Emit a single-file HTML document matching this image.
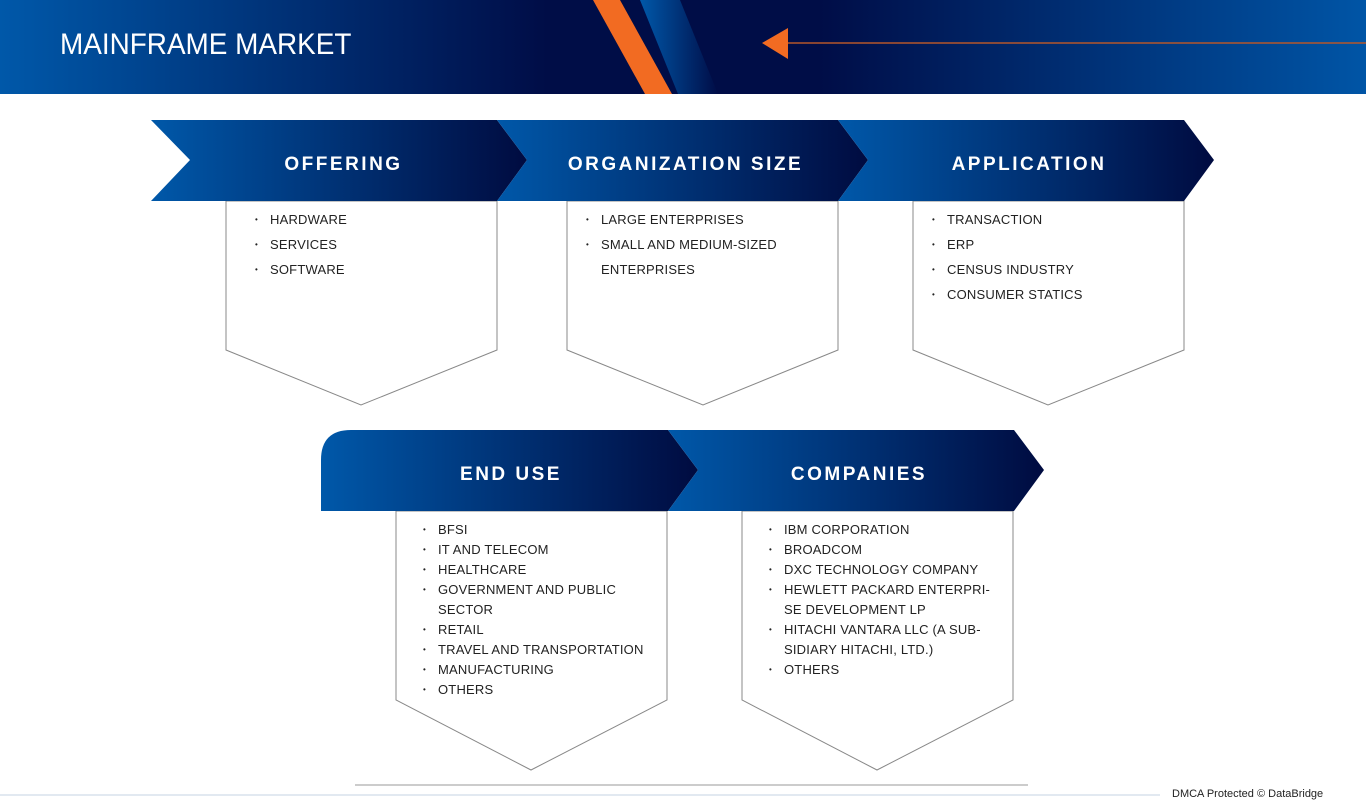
<!DOCTYPE html>
<html><head><meta charset="utf-8"><style>
body{margin:0;width:1366px;height:808px;overflow:hidden;background:#fff;font-family:"Liberation Sans",sans-serif;position:relative}
.t{position:absolute;font-size:13px;color:#222;letter-spacing:0.3px;white-space:nowrap}
.h{position:absolute;color:#fff;font-weight:bold;font-size:19px;letter-spacing:2.5px;text-align:center}
ul{position:absolute;margin:0;padding:0;list-style:none}
li{position:relative;font-size:13px;color:#222;letter-spacing:0.2px;white-space:nowrap;padding-left:15px}
li:before{content:"•";position:absolute;left:0;font-size:8px;top:0}
</style></head><body>
<svg width="1366" height="808" style="position:absolute;left:0;top:0">
<defs>
<linearGradient id="bn" x1="0" x2="1"><stop offset="0" stop-color="#0058a9"/><stop offset="0.4" stop-color="#000d47"/><stop offset="0.6" stop-color="#000d47"/><stop offset="1" stop-color="#0055a6"/></linearGradient>
<linearGradient id="g" x1="0" x2="1"><stop offset="0" stop-color="#0058a9"/><stop offset="1" stop-color="#000b40"/></linearGradient>
<linearGradient id="bs" x1="0" x2="1"><stop offset="0" stop-color="#0058a9"/><stop offset="1" stop-color="#000d47"/></linearGradient>
</defs>
<rect x="0" y="0" width="1366" height="94" fill="url(#bn)"/>
<polygon points="640,0 680,0 718,94 678,94" fill="url(#bs)"/>
<polygon points="593,0 620,0 672,94 645,94" fill="#f26b22"/>
<polygon points="762,43 788,28 788,59" fill="#f26b22"/>
<line x1="788" y1="43" x2="1366" y2="43" stroke="#b5572a" stroke-width="1.5"/>
<g fill="#fff" stroke="#888" stroke-width="1">
<polygon points="226,201 497,201 497,350 361,405 226,350"/>
<polygon points="567,201 838,201 838,350 703,405 567,350"/>
<polygon points="913,201 1184,201 1184,350 1048,405 913,350"/>
<polygon points="396,511 667,511 667,700 531,770 396,700"/>
<polygon points="742,511 1013,511 1013,700 877,770 742,700"/>
</g>
<polygon points="151,120 497,120 527,160 497,201 151,201 190,160" fill="url(#g)"/>
<polygon points="497,120 838,120 868,160 838,201 497,201 527,160" fill="url(#g)"/>
<polygon points="838,120 1184,120 1214,160 1184,201 838,201 868,160" fill="url(#g)"/>
<path d="M321,511 L321,460 Q321,430 351,430 L668,430 L698,470 L668,511 Z" fill="url(#g)"/>
<polygon points="668,430 1014,430 1044,470 1014,511 668,511 698,470" fill="url(#g)"/>
<line x1="355" y1="785" x2="1028" y2="785" stroke="#bbb" stroke-width="1.5"/>
<line x1="0" y1="795" x2="1160" y2="795" stroke="#c5d3e3" stroke-width="1"/>
</svg>
<div style="position:absolute;left:60px;top:28px;color:#fff;font-size:30px;letter-spacing:0px;transform:scaleX(0.93);transform-origin:left">MAINFRAME MARKET</div>
<div class="h" style="left:190px;width:307px;top:154px">OFFERING</div>
<div class="h" style="left:527px;width:317px;top:154px">ORGANIZATION SIZE</div>
<div class="h" style="left:868px;width:322px;top:154px">APPLICATION</div>
<div class="h" style="left:351px;width:320px;top:464px">END USE</div>
<div class="h" style="left:698px;width:322px;top:464px">COMPANIES</div>
<ul style="left:255px;top:207px;line-height:25px"><li>HARDWARE</li><li>SERVICES</li><li>SOFTWARE</li></ul>
<ul style="left:586px;top:207px;line-height:25px"><li>LARGE ENTERPRISES</li><li>SMALL AND MEDIUM-SIZED<br>ENTERPRISES</li></ul>
<ul style="left:932px;top:207px;line-height:25px"><li>TRANSACTION</li><li>ERP</li><li>CENSUS INDUSTRY</li><li>CONSUMER STATICS</li></ul>
<ul style="left:423px;top:520px;line-height:20px"><li>BFSI</li><li>IT AND TELECOM</li><li>HEALTHCARE</li><li>GOVERNMENT AND PUBLIC<br>SECTOR</li><li>RETAIL</li><li>TRAVEL AND TRANSPORTATION</li><li>MANUFACTURING</li><li>OTHERS</li></ul>
<ul style="left:769px;top:520px;line-height:20px"><li>IBM CORPORATION</li><li>BROADCOM</li><li>DXC TECHNOLOGY COMPANY</li><li>HEWLETT PACKARD ENTERPRI-<br>SE DEVELOPMENT LP</li><li>HITACHI VANTARA LLC (A SUB-<br>SIDIARY HITACHI, LTD.)</li><li>OTHERS</li></ul>
<div class="t" style="left:1172px;top:788px;font-size:11px;letter-spacing:0">DMCA Protected © DataBridge</div>
</body></html>
